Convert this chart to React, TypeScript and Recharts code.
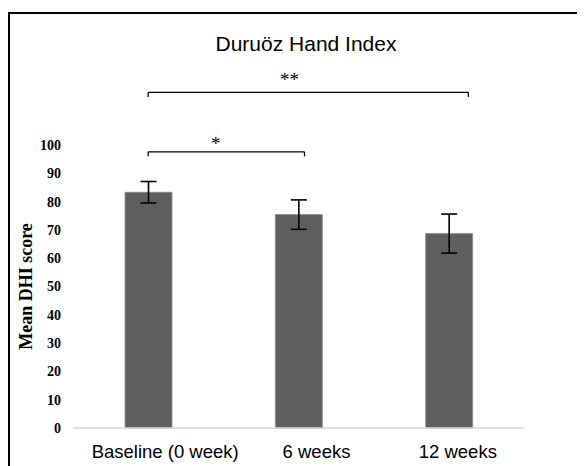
import React from 'react';
import { BarChart, Bar, XAxis, YAxis, ErrorBar, ReferenceLine, ReferenceDot, Label } from 'recharts';

const categories = ['Baseline (0 week)', '6 weeks', '12 weeks'];
const means = [83.3, 75.4, 68.7];
const errors = [3.8, 5.2, 6.9];
const yTicks = [0, 10, 20, 30, 40, 50, 60, 70, 80, 90, 100];

// significance brackets
const brackets = [
  { from: 0, to: 2.13, y: 118.6, drop: 1.6 },
  { from: 0, to: 1.04, y: 97.6, drop: 1.6 },
];
const starPositions = [
  { x: 0.94, y: 123.2, label: '**' },
  { x: 0.45, y: 100.7, label: '*' },
];

const data = categories.map((c, i) => ({ x: i, name: c, mean: means[i], err: errors[i] }));

const tickOffsets = [17, 18, 9];

const XTick = (props: any) => {
  const { x, y, payload } = props;
  const dx = tickOffsets[payload.value] ?? 0;
  return (
    <text
      x={x + dx}
      y={y + 29.5}
      textAnchor="middle"
      fill="#000"
      style={{ fontFamily: '"Liberation Sans", Arial, sans-serif', fontSize: 18.5 }}
    >
      {categories[payload.value]}
    </text>
  );
};

const YLabel = (props: any) => {
  const vb = props.viewBox || {};
  const cx = (vb.x ?? 0) + 18;
  const cy = (vb.y ?? 0) + (vb.height ?? 0) / 2;
  return (
    <text
      x={cx}
      y={cy}
      transform={`rotate(-90, ${cx}, ${cy})`}
      textAnchor="middle"
      dominantBaseline="central"
      fill="#000"
      style={{ fontFamily: '"Liberation Serif", "Times New Roman", serif', fontSize: 18, fontWeight: 'bold' }}
    >
      Mean DHI score
    </text>
  );
};

export default function App() {
  return (
    <div style={{ position: 'relative', width: 577, height: 458 }}>
      <div
        style={{
          position: 'absolute',
          top: 4,
          left: 0,
          width: 577,
          height: 454,
          borderTop: '2px solid #000',
          borderLeft: '2px solid #000',
          boxSizing: 'border-box',
        }}
      />
      <div
        style={{
          position: 'absolute',
          top: 25,
          left: 98,
          width: 400,
          textAlign: 'center',
          fontFamily: '"Liberation Sans", Arial, sans-serif',
          fontSize: 21,
          lineHeight: '21px',
          color: '#000',
        }}
      >
        Duruöz Hand Index
      </div>
      <div style={{ position: 'absolute', top: 0, left: 0 }}>
        <BarChart width={577} height={458} data={data} margin={{ top: 137, right: 61, bottom: 0, left: 0 }}>
          <XAxis
            type="number"
            dataKey="x"
            domain={[-0.5, 2.5]}
            ticks={[0, 1, 2]}
            interval={0}
            height={38}
            tickLine={false}
            tickSize={0}
            tickMargin={0}
            axisLine={{ stroke: '#d9d9d9', strokeWidth: 1.5 }}
            tick={<XTick />}
          />
          <YAxis
            type="number"
            domain={[0, 100]}
            ticks={yTicks}
            interval={0}
            width={65}
            axisLine={false}
            tickLine={false}
            tickSize={0}
            tickMargin={12}
            tick={{
              fill: '#000',
              fontSize: 14,
              fontWeight: 'bold',
              fontFamily: '"Liberation Serif", "Times New Roman", serif',
            }}
            label={<YLabel />}
          />
          <Bar dataKey="mean" fill="#5f5f5f" stroke="#8c8c8c" strokeWidth={0.8} barSize={47} isAnimationActive={false}>
            <ErrorBar dataKey="err" width={8} stroke="#000" strokeWidth={1.6} direction="y" />
          </Bar>
          {brackets.map((b, i) => (
            <ReferenceLine
              key={`h${i}`}
              segment={[{ x: b.from, y: b.y }, { x: b.to, y: b.y }]}
              stroke="#000"
              strokeWidth={1.3}
              ifOverflow="visible"
            />
          ))}
          {brackets.map((b, i) => (
            <ReferenceLine
              key={`l${i}`}
              segment={[{ x: b.from, y: b.y }, { x: b.from, y: b.y - b.drop }]}
              stroke="#000"
              strokeWidth={1.3}
              ifOverflow="visible"
            />
          ))}
          {brackets.map((b, i) => (
            <ReferenceLine
              key={`r${i}`}
              segment={[{ x: b.to, y: b.y }, { x: b.to, y: b.y - b.drop }]}
              stroke="#000"
              strokeWidth={1.3}
              ifOverflow="visible"
            />
          ))}
          {starPositions.map((s, i) => (
            <ReferenceDot key={`s${i}`} x={s.x} y={s.y} r={0} fill="none" stroke="none" ifOverflow="visible">
              <Label
                value={s.label}
                position="center"
                fill="#000"
                fontSize={19}
                fontFamily='"Liberation Serif", "Times New Roman", serif'
              />
            </ReferenceDot>
          ))}
        </BarChart>
      </div>
    </div>
  );
}
